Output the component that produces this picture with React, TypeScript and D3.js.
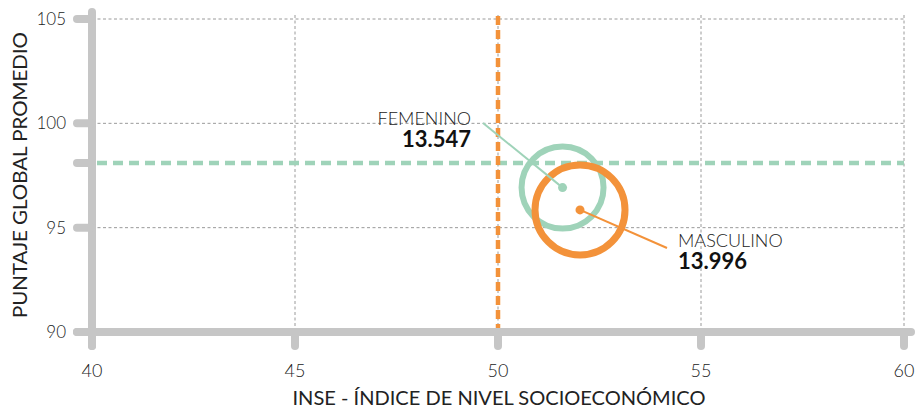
import React from "react";
import * as d3 from "d3";

const xTicks = [40, 45, 50, 55, 60];
const yTicks = [90, 95, 100, 105];
const groups = ["FEMENINO", "MASCULINO"];
const groupCount = [13547, 13996];
const groupInse = [51.59, 52.02];
const groupScore = [96.92, 95.85];
const groupColor = ["#9fd3b9", "#f3923a"];
const refInse = 50;
const refScore = 98.1;

const W = 918;
const H = 409;
const FONT = "Lato, 'Open Sans', sans-serif";

export default function App() {
  const x = d3.scaleLinear().domain([40, 60]).range([92, 904]);
  const y = d3.scaleLinear().domain([90, 105]).range([332, 19]);
  const r = d3.scaleLinear().domain([13547, 13996]).range([41, 45]);
  const axisColor = "#c6c6c6";
  const gridColor = "#9a9a9a";
  const fmt = (v: number) => d3.format(",")(v).replace(",", ".");

  const labelPos = [
    { lx: 471, ly: 125, ex: 483, ey: 123, anchor: "end" },
    { lx: 678, ly: 247, ex: 667, ey: 248, anchor: "start" },
  ];

  return (
    <svg width={W} height={H} style={{ position: "absolute", left: 0, top: 0, fontFamily: FONT }}>
      <rect width={W} height={H} fill="#fff" />
      {/* grid */}
      {yTicks.filter((t) => t !== 90).map((t) => (
        <line key={"gy" + t} x1={x(40)} x2={x(60)} y1={y(t)} y2={y(t)} stroke={gridColor} strokeWidth={1} strokeDasharray="3,2.5" />
      ))}
      {xTicks.filter((t) => t !== 40).map((t) => (
        <line key={"gx" + t} x1={x(t)} x2={x(t)} y1={y(105) - 4} y2={y(90)} stroke={gridColor} strokeWidth={1} strokeDasharray="3,2.5" />
      ))}
      {/* axes */}
      <line x1={x(40)} x2={x(40)} y1={12} y2={y(90) + 14} stroke={axisColor} strokeWidth={8} strokeLinecap="round" />
      <line x1={x(40) - 15} x2={x(60) + 7} y1={y(90)} y2={y(90)} stroke={axisColor} strokeWidth={8} strokeLinecap="round" />
      {yTicks.concat([refScore]).map((t) => (
        <line key={"ty" + t} x1={x(40) - 15} x2={x(40)} y1={y(t)} y2={y(t)} stroke={axisColor} strokeWidth={8} strokeLinecap="round" />
      ))}
      {xTicks.map((t) => (
        <line key={"tx" + t} x1={x(t)} x2={x(t)} y1={y(90)} y2={y(90) + 14} stroke={axisColor} strokeWidth={8} strokeLinecap="round" />
      ))}
      {/* reference lines */}
      <line x1={x(40) + 5} x2={x(60)} y1={y(refScore)} y2={y(refScore)} stroke={groupColor[0]} strokeWidth={4.5} strokeDasharray="10,6" />
      <line x1={x(refInse)} x2={x(refInse)} y1={16} y2={y(90) - 4} stroke={groupColor[1]} strokeWidth={4.5} strokeDasharray="9,5" />
      {/* tick labels */}
      {yTicks.map((t) => (
        <text key={"ly" + t} x={66} y={y(t)} dy="0.35em" textAnchor="end" fontSize={17} fontWeight={300} fill="#222">{t}</text>
      ))}
      {xTicks.map((t) => (
        <text key={"lx" + t} x={x(t)} y={377} textAnchor="middle" fontSize={18} fontWeight={300} fill="#222">{t}</text>
      ))}
      {/* axis titles */}
      <text x={499} y={405} textAnchor="middle" fontSize={19.5} fontWeight={400} fill="#222" textLength={413} lengthAdjust="spacingAndGlyphs">INSE - ÍNDICE DE NIVEL SOCIOECONÓMICO</text>
      <text transform={`translate(27,175) rotate(-90)`} textAnchor="middle" fontSize={19.5} fontWeight={400} fill="#222" textLength={286} lengthAdjust="spacingAndGlyphs">PUNTAJE GLOBAL PROMEDIO</text>
      {/* bubbles */}
      {groups.map((g, i) => (
        <g key={g}>
          <circle cx={x(groupInse[i])} cy={y(groupScore[i])} r={r(groupCount[i])} fill="none" stroke={groupColor[i]} strokeWidth={i === 0 ? 6 : 7} />
        </g>
      ))}
      {groups.map((g, i) => (
        <g key={"l" + g}>
          <line x1={labelPos[i].ex} y1={labelPos[i].ey} x2={x(groupInse[i])} y2={y(groupScore[i])} stroke={groupColor[i]} strokeWidth={2} />
          <circle cx={x(groupInse[i])} cy={y(groupScore[i])} r={4.5} fill={groupColor[i]} />
          <text x={labelPos[i].lx} y={labelPos[i].ly} textAnchor={labelPos[i].anchor} fontSize={18} fontWeight={300} fill="#222">{g}</text>
          <text x={labelPos[i].lx} y={labelPos[i].ly + 22} textAnchor={labelPos[i].anchor} fontSize={22} fontWeight={700} fill="#111">{fmt(groupCount[i])}</text>
        </g>
      ))}
    </svg>
  );
}
